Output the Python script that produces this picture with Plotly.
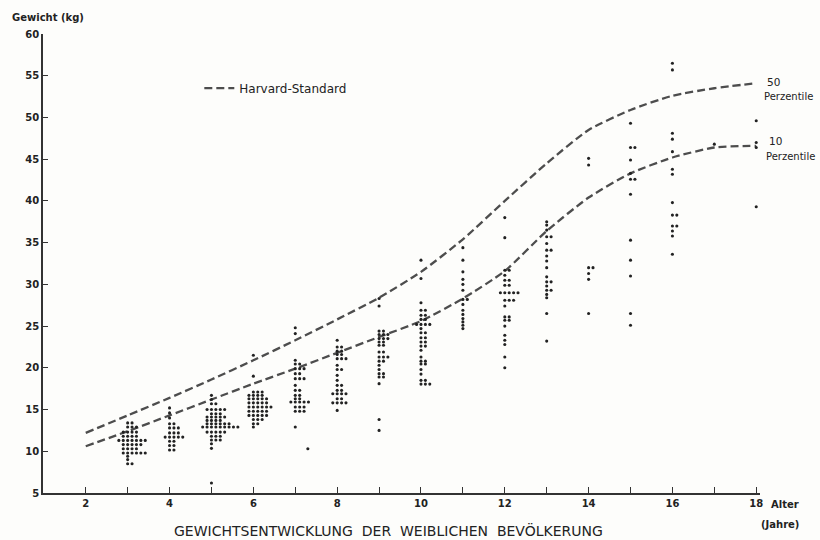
import plotly.graph_objects as go

# Harvard standard curves for girls (kg), ages 2..18
std_ages = list(range(2, 19))
p50_kg = [12.2, 14.3, 16.4, 18.6, 20.9, 23.3, 25.8, 28.4, 31.5, 35.4, 40.0, 44.5, 48.5, 50.9, 52.6, 53.5, 54.1]
p10_kg = [10.6, 12.4, 14.3, 16.2, 18.1, 19.9, 21.8, 23.7, 25.6, 28.3, 31.6, 36.4, 40.4, 43.3, 45.2, 46.4, 46.6]

# Measured weights per age group: row weight (kg) and number of girls in that row
age3_kg = [13.4, 12.9, 12.3, 11.8, 11.3, 10.8, 10.3, 9.8, 9.4, 9.0, 8.5]
age3_n = [2, 3, 4, 4, 7, 5, 4, 6, 1, 1, 2]
age4_kg = [15.2, 14.6, 14.0, 13.3, 12.8, 12.2, 11.7, 11.2, 10.7, 10.15]
age4_n = [1, 1, 1, 2, 3, 3, 5, 2, 2, 2]
age5_kg = [16.7, 16.2, 15.7, 15.0, 14.5, 14.1, 13.7, 13.3, 12.9, 12.3, 11.8, 11.35, 10.9, 10.35, 6.2]
age5_n = [1, 1, 2, 5, 3, 5, 4, 6, 9, 5, 3, 3, 1, 1, 1]
age6_kg = [21.5, 19.0, 17.1, 16.7, 16.3, 15.8, 15.3, 14.8, 14.3, 13.8, 13.3, 12.9]
age6_n = [1, 1, 3, 4, 5, 5, 6, 5, 5, 3, 2, 1]
age7_kg = [24.8, 24.1, 20.9, 20.45, 19.9, 19.3, 18.7, 17.9, 17.3, 16.7, 16.3, 15.9, 15.3, 14.8, 12.9]
age7_n = [1, 1, 1, 2, 3, 2, 3, 1, 2, 2, 2, 5, 3, 3, 1]
age8_kg = [23.3, 22.5, 22.0, 21.6, 21.1, 20.3, 19.8, 19.1, 18.5, 17.9, 17.3, 16.9, 16.3, 15.8, 14.9]
age8_n = [1, 2, 2, 2, 3, 1, 2, 1, 1, 2, 2, 4, 2, 4, 1]
age9_kg = [28.3, 27.4, 24.4, 24.0, 23.5, 23.1, 22.7, 21.9, 21.3, 20.8, 20.3, 19.8, 19.3, 18.9, 18.1, 13.8, 12.5]
age9_n = [1, 1, 2, 3, 3, 2, 2, 2, 3, 2, 1, 1, 2, 2, 1, 1, 1]
age10_kg = [32.9, 30.7, 27.8, 26.9, 26.3, 25.8, 25.2, 24.7, 24.2, 23.6, 23.1, 22.6, 22.1, 21.3, 20.8, 20.45, 19.8, 19.25, 18.5, 18.05]
age10_n = [1, 1, 1, 2, 2, 2, 4, 1, 2, 2, 2, 2, 1, 1, 2, 2, 1, 1, 2, 3]
age11_kg = [34.4, 32.9, 31.5, 30.6, 30.0, 29.3, 28.2, 27.6, 26.9, 26.4, 25.9, 25.5, 25.1, 24.7]
age11_n = [1, 1, 1, 1, 1, 1, 2, 1, 1, 1, 1, 1, 1, 1]
age12_kg = [38.0, 35.6, 31.7, 31.1, 30.5, 29.9, 29.0, 28.1, 27.4, 26.1, 25.7, 25.0, 23.9, 23.3, 22.8, 21.3, 20.0]
age12_n = [1, 1, 2, 1, 2, 2, 5, 3, 1, 2, 2, 1, 1, 1, 1, 1, 1]
age13_kg = [37.5, 37.1, 36.5, 35.7, 34.9, 34.1, 33.4, 32.8, 32.0, 30.9, 30.3, 29.8, 29.3, 28.8, 28.4, 26.5, 23.2]
age13_n = [1, 1, 1, 2, 1, 2, 1, 1, 1, 1, 2, 1, 2, 1, 1, 1, 1]
age14_kg = [45.1, 44.3, 32.0, 31.3, 30.6, 26.5]
age14_n = [1, 1, 2, 1, 1, 1]
age15_kg = [49.3, 46.4, 44.9, 43.3, 42.6, 40.8, 35.3, 32.9, 31.0, 26.5, 25.1]
age15_n = [1, 2, 1, 1, 2, 1, 1, 1, 1, 1, 1]
age16_kg = [56.5, 55.7, 48.1, 47.4, 45.9, 43.8, 43.2, 39.8, 38.3, 37.0, 36.4, 35.8, 33.6]
age16_n = [1, 1, 1, 1, 1, 1, 1, 1, 2, 2, 1, 1, 1]
age17_kg = [46.8]
age17_n = [1]
age18_kg = [49.6, 47.0, 46.4, 39.3]
age18_n = [2, 1, 1, 1]

# A single child plotted a little off its age column
stray_age = [7.3]
stray_kg = [10.3]

groups = [
    (3, age3_kg, age3_n), (4, age4_kg, age4_n), (5, age5_kg, age5_n),
    (6, age6_kg, age6_n), (7, age7_kg, age7_n), (8, age8_kg, age8_n),
    (9, age9_kg, age9_n), (10, age10_kg, age10_n), (11, age11_kg, age11_n),
    (12, age12_kg, age12_n), (13, age13_kg, age13_n), (14, age14_kg, age14_n),
    (15, age15_kg, age15_n), (16, age16_kg, age16_n), (17, age17_kg, age17_n),
    (18, age18_kg, age18_n),
]

DOT_STEP = 0.105  # horizontal spacing between equal-weight dots (years)


def spread(age, kg_rows, counts):
    xs, ys = [], []
    for kg, n in zip(kg_rows, counts):
        shift = (n - 1) // 3
        for k in range(n):
            xs.append(age + (k - shift) * DOT_STEP)
            ys.append(kg)
    return xs, ys


dot_x, dot_y = [], []
for age, kg_rows, counts in groups:
    xs, ys = spread(age, kg_rows, counts)
    dot_x += xs
    dot_y += ys
dot_x += stray_age
dot_y += stray_kg

INK = "#222222"
CURVE = "#4d4d4d"
FONT = "DejaVu Sans"

fig = go.Figure()

fig.add_trace(go.Scatter(
    x=std_ages, y=p50_kg, mode="lines", name="Harvard-Standard",
    line=dict(color=CURVE, width=2.3, dash="8px,4px", shape="spline", smoothing=0.6),
    showlegend=True,
))
fig.add_trace(go.Scatter(
    x=std_ages, y=p10_kg, mode="lines", name="10 Perzentile",
    line=dict(color=CURVE, width=2.3, dash="8px,4px", shape="spline", smoothing=0.6),
    showlegend=False,
))
fig.add_trace(go.Scatter(
    x=dot_x, y=dot_y, mode="markers", showlegend=False,
    marker=dict(color=INK, size=3.1, line=dict(width=0)),
    cliponaxis=False,
))

x_ticks = list(range(2, 19))
x_ticktext = [str(a) if a % 2 == 0 else "" for a in x_ticks]
y_ticks = list(range(5, 61, 5))

fig.update_layout(
    width=820, height=540,
    margin=dict(l=43, r=60, t=34, b=47),
    paper_bgcolor="#fdfdfb", plot_bgcolor="#fdfdfb",
    font=dict(family=FONT, color=INK, size=10),
    xaxis=dict(
        range=[0.98, 18.09], tickvals=x_ticks, ticktext=x_ticktext,
        ticks="inside", ticklen=6, tickwidth=1.3, tickcolor="#333",
        showline=True, linecolor="#333", linewidth=1.6,
        showgrid=False, zeroline=False,
        tickfont=dict(family=FONT, size=10, color=INK, weight="bold"),
    ),
    yaxis=dict(
        range=[5, 60], tickvals=y_ticks,
        ticks="inside", ticklen=5, tickwidth=1.3, tickcolor="#333",
        showline=True, linecolor="#333", linewidth=1.6,
        showgrid=False, zeroline=False,
        tickfont=dict(family=FONT, size=10, color=INK, weight="bold"),
    ),
    legend=dict(
        x=0.218, y=0.882, xanchor="left", yanchor="middle",
        bgcolor="rgba(0,0,0,0)", font=dict(family=FONT, size=12, color=INK),
        itemwidth=30,
    ),
    showlegend=True,
)

notes = [
    dict(text="Gewicht (kg)", x=10, y=17, xanchor="left", size=10, bold=True),
    dict(text="50", x=765, y=82, xanchor="left", size=10.5, bold=False),
    dict(text="Perzentile", x=762, y=97, xanchor="left", size=10, bold=False),
    dict(text="10", x=767, y=141, xanchor="left", size=10.5, bold=False),
    dict(text="Perzentile", x=764, y=156, xanchor="left", size=10, bold=False),
    dict(text="Alter", x=801, y=505, xanchor="right", size=10, bold=True),
    dict(text="(Jahre)", x=801, y=524, xanchor="right", size=10, bold=True),
    dict(text="GEWICHTSENTWICKLUNG  DER  WEIBLICHEN  BEVÖLKERUNG", x=388, y=530,
         xanchor="center", size=14, bold=False),
]
for n in notes:
    fig.add_annotation(
        text=n["text"], xref="paper", yref="paper",
        x=(n["x"] - 43) / 717, y=(493 - n["y"]) / 459,
        xanchor=n["xanchor"], yanchor="middle", showarrow=False,
        font=dict(family=FONT, size=n["size"], color=INK,
                  weight="bold" if n["bold"] else "normal"),
    )

fig.write_html("out.html")
